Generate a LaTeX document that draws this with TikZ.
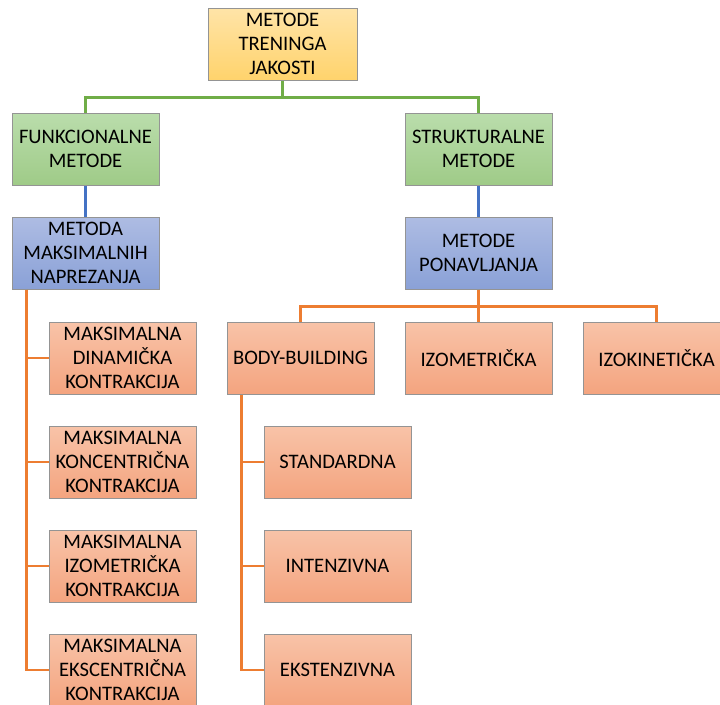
\documentclass[tikz,border=0pt]{standalone}
\usepackage{fontspec}
\setmainfont{Carlito}
\usepackage{tikz}
\usetikzlibrary{calc}

\definecolor{rootA}{HTML}{FFE4A8}
\definecolor{rootB}{HTML}{FFD36C}
\definecolor{grnA}{HTML}{BADDAC}
\definecolor{grnB}{HTML}{9FCB88}
\definecolor{bluA}{HTML}{AEBCE3}
\definecolor{bluB}{HTML}{8AA1D7}
\definecolor{orgA}{HTML}{F8C3A8}
\definecolor{orgB}{HTML}{F4A47F}
\definecolor{lgrn}{HTML}{70AD47}
\definecolor{lblu}{HTML}{4472C4}
\definecolor{lorg}{HTML}{ED7D31}

\begin{document}
\begin{tikzpicture}[x=1pt,y=-1pt,
    box/.style={draw=black!42, line width=1pt, minimum width=147pt, minimum height=72pt,
      inner sep=2pt, align=center, font=\fontsize{20.6}{24}\selectfont},
    rootbox/.style={box, top color=rootA, bottom color=rootB, minimum width=149pt},
    grnbox/.style={box, top color=grnA, bottom color=grnB},
    blubox/.style={box, top color=bluA, bottom color=bluB},
    orgbox/.style={box, top color=orgA, bottom color=orgB},
    grnline/.style={draw=lgrn, line width=2.2pt},
    bluline/.style={draw=lblu, line width=2.2pt},
    orgline/.style={draw=lorg, line width=2.2pt}]
  \clip (0,0) rectangle (720,704);
  \useasboundingbox (0,0) rectangle (720,704);

  \node[rootbox] (root) at (282.5,44) {METODE\\TRENINGA\\JAKOSTI};
  \node[grnbox] (funk) at (85.5,149) {FUNKCIONALNE\\METODE};
  \node[grnbox] (strukt) at (478.5,149) {STRUKTURALNE\\METODE};
  \node[blubox] (maks) at (85.5,253) {METODA\\MAKSIMALNIH\\NAPREZANJA};
  \node[blubox] (ponav) at (478.5,253) {METODE\\PONAVLJANJA};

  \node[orgbox] (body) at (300.5,358) {BODY-BUILDING};
  \node[orgbox] (izom) at (478.5,358) {IZOMETRIČKA};
  \node[orgbox] (izok) at (656.5,358) {IZOKINETIČKA};

  \node[orgbox] (din) at (122.5,358) {MAKSIMALNA\\DINAMIČKA\\KONTRAKCIJA};
  \node[orgbox] (konc) at (122.5,462) {MAKSIMALNA\\KONCENTRIČNA\\KONTRAKCIJA};
  \node[orgbox] (izo) at (122.5,566) {MAKSIMALNA\\IZOMETRIČKA\\KONTRAKCIJA};
  \node[orgbox] (eksc) at (122.5,670) {MAKSIMALNA\\EKSCENTRIČNA\\KONTRAKCIJA};

  \node[orgbox] (std) at (337.5,462) {STANDARDNA};
  \node[orgbox] (int) at (337.5,566) {INTENZIVNA};
  \node[orgbox] (eks) at (337.5,670) {EKSTENZIVNA};

  \draw[grnline] (root.south) -- ++(0,17) coordinate (rj) -| (funk.north);
  \draw[grnline] (rj) -| (strukt.north);
  \draw[bluline] (funk) -- (maks);
  \draw[bluline] (strukt) -- (ponav);

  \draw[orgline] (ponav.south) -- ++(0,17) coordinate (pj) -| (body.north);
  \draw[orgline] (pj) -| (izok.north);
  \draw[orgline] (pj) -- (izom.north);

  \coordinate (lsp) at ($(maks.south west)+(15,0)$);
  \foreach \n in {din,konc,izo,eksc}
    \draw[orgline] (lsp) |- (\n.west);
  \coordinate (rsp) at ($(body.south west)+(15,0)$);
  \foreach \n in {std,int,eks}
    \draw[orgline] (rsp) |- (\n.west);
\end{tikzpicture}
\end{document}
